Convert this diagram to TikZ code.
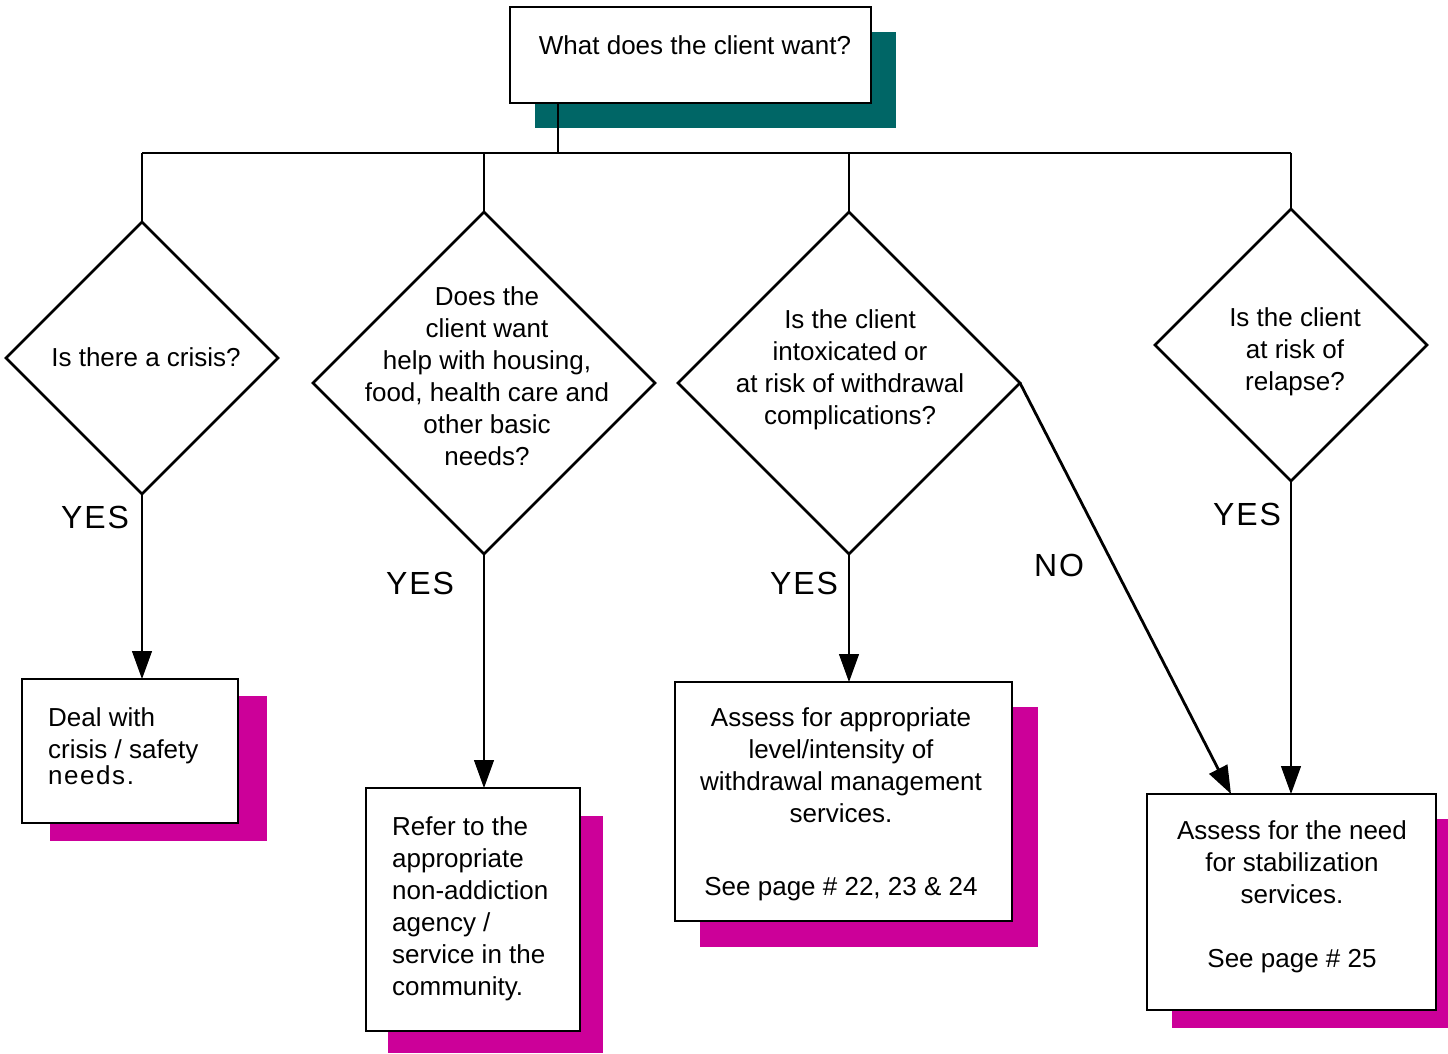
\documentclass[tikz,border=0pt]{standalone}
\usepackage{fontspec}
\setmainfont{Liberation Sans}
\newfontfamily\labfont[LetterSpace=6]{Liberation Sans}
\usetikzlibrary{shapes.geometric,arrows.meta}
\definecolor{shteal}{HTML}{006666}
\definecolor{shmag}{HTML}{CC0099}
\begin{document}
\begin{tikzpicture}[x=1pt,y=-1pt,
  dia/.style={draw,diamond,line width=2.6pt,minimum width=#1,minimum height=#1,inner sep=0pt,outer sep=0pt,aspect=1},
  box/.style={draw,line width=1.1pt,fill=white,inner sep=0pt,outer sep=0pt,anchor=north west},
  txt/.style={font=\fontsize{26}{32}\selectfont,align=center,inner sep=0pt},
  ltxt/.style={font=\fontsize{26}{32}\selectfont,align=left,inner sep=0pt,anchor=west},
  lab/.style={font=\labfont\fontsize{32}{36}\selectfont,inner sep=0pt},
  conn/.style={line width=1.1pt},
  arr/.style={line width=1.1pt,-{Triangle[length=28pt,width=20pt]}},
  thickarr/.style={line width=2.8pt,-{Triangle[length=28pt,width=20pt]}}]
\useasboundingbox (0,0) rectangle (1448,1054);
\fill[white] (0,0) rectangle (1448,1054);

% top box
\fill[shteal] (535,32) rectangle (896,128);
\node[box,minimum width=361pt,minimum height=96pt] (top) at (510,7) {};
\node[txt] (topt) at (695,45) {What does the client want?};

% bus
\coordinate (tj) at (558,103);
\coordinate (bl) at (142,153);
\coordinate (br) at (1291,153);
\coordinate (bj) at (558,153);

% diamonds
\node[dia=272pt] (d1) at (142,358) {};
\node[dia=342pt] (d2) at (484,383) {};
\node[dia=342pt] (d3) at (849,383) {};
\node[dia=272pt] (d4) at (1291,345) {};
\node[txt] (d1t) at (146,357) {Is there a crisis?};
\node[txt] (d2t) at (487,376) {Does the\\client want\\help with housing,\\food, health care and\\other basic\\needs?};
\node[txt] (d3t) at (850,370) {Is the client\\intoxicated or\\at risk of withdrawal\\complications?};
\node[txt] (d4t) at (1295,352) {Is the client\\at risk of\\relapse?};

% boxes
\fill[shmag] (50,696) rectangle (267,841);
\node[box,minimum width=216pt,minimum height=144pt] (b1) at (22,679) {};
\node[ltxt] (b1t) at (48,746) {Deal with\\crisis / safety\\[-6pt]{\addfontfeature{LetterSpace=6}needs.}};

\fill[shmag] (388,816) rectangle (603,1053);
\node[box,minimum width=214pt,minimum height=243pt] (b2) at (366,788) {};
\node[ltxt] (b2t) at (392,909) {Refer to the\\appropriate\\non-addiction\\agency /\\service in the\\community.};

\fill[shmag] (700,707) rectangle (1038,947);
\node[box,minimum width=337pt,minimum height=239pt] (b3) at (675,682) {};
\node[txt] (b3t) at (841,804) {Assess for appropriate\\level/intensity of\\withdrawal management\\services.\\[41pt]See page \# 22, 23 \& 24};

\fill[shmag] (1172,819) rectangle (1448,1028);
\node[box,minimum width=289pt,minimum height=216pt] (b4) at (1147,794) {};
\node[txt] (b4t) at (1292,897) {Assess for the need\\for stabilization\\services.\\[32pt]See page \# 25};
\coordinate (b4no) at (1231,794);

% connectors
\draw[conn] (tj) -- (bj);
\draw[conn] (bl) -- (br);
\draw[conn] (d1.north |- bl) -- (d1.north);
\draw[conn] (d2.north |- bl) -- (d2.north);
\draw[conn] (d3.north |- bl) -- (d3.north);
\draw[conn] (d4.north |- bl) -- (d4.north);

\draw[arr] (d1.south) -- (d1.south |- b1.north);
\draw[arr] (d2.south) -- (d2.south |- b2.north);
\draw[arr] (d3.south) -- (d3.south |- b3.north);
\draw[arr] (d4.south) -- (d4.south |- b4.north);
\draw[thickarr] (d3.east) -- (b4no);

% labels
\node[lab] (y1) at (95,517) {YES};
\node[lab] (y2) at (420,583) {YES};
\node[lab] (y3) at (804,583) {YES};
\node[lab] (n3) at (1059,565) {NO};
\node[lab] (y4) at (1247,514) {YES};
\end{tikzpicture}
\end{document}
